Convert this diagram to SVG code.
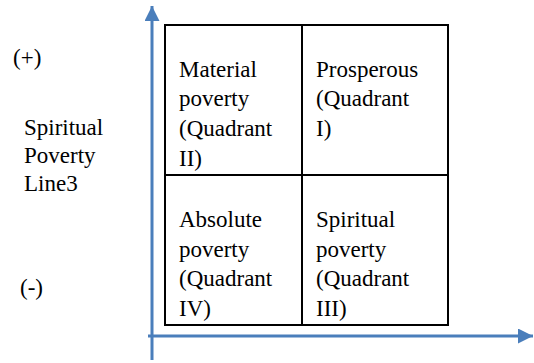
<svg xmlns="http://www.w3.org/2000/svg" width="534" height="363" viewBox="0 0 534 363">
<style>
text{font-family:'Liberation Serif','Times New Roman',Times,'Nimbus Roman','Noto Serif',FreeSerif,'DejaVu Serif',serif;font-size:23px;fill:#000}
.ax{stroke:#4a7ebb;stroke-width:3;fill:none}
.bx{stroke:#000;stroke-width:2;fill:none}
</style>
<defs>
<marker id="ah" viewBox="0 0 10 10" refX="10" refY="5" markerWidth="5" markerHeight="5" markerUnits="strokeWidth" orient="auto">
<path d="M0,0L10,5L0,10z" fill="#4a7ebb"/>
</marker>
</defs>
<rect width="534" height="363" fill="#fff"/>
<g id="connectors">
<line class="ax" x1="152" y1="360" x2="152" y2="6" marker-end="url(#ah)"/>
<line class="ax" x1="148" y1="336" x2="533" y2="336" marker-end="url(#ah)"/>
</g>
<g id="grid">
<rect class="bx" x="165" y="25" width="283" height="300"/>
<line class="bx" x1="302" y1="25" x2="302" y2="325"/>
<line class="bx" x1="165" y1="175" x2="448" y2="175"/>
</g>
<g id="q2"><text x="179" y="77">Material</text><text x="179" y="106">poverty</text><text x="179" y="136">(Quadrant</text><text x="179" y="166">II)</text></g>
<g id="q1"><text x="316" y="77">Prosperous</text><text x="316" y="106">(Quadrant</text><text x="316" y="136">I)</text></g>
<g id="q4"><text x="179" y="227">Absolute</text><text x="179" y="257">poverty</text><text x="179" y="286">(Quadrant</text><text x="179" y="316">IV)</text></g>
<g id="q3"><text x="316" y="227">Spiritual</text><text x="316" y="257">poverty</text><text x="316" y="286">(Quadrant</text><text x="316" y="316">III)</text></g>
<g id="labels"><text x="13" y="65">(+)</text><text x="24" y="135">Spiritual</text><text x="24" y="163">Poverty</text><text x="24" y="191">Line3</text><text x="20" y="295">(-)</text></g>
</svg>
